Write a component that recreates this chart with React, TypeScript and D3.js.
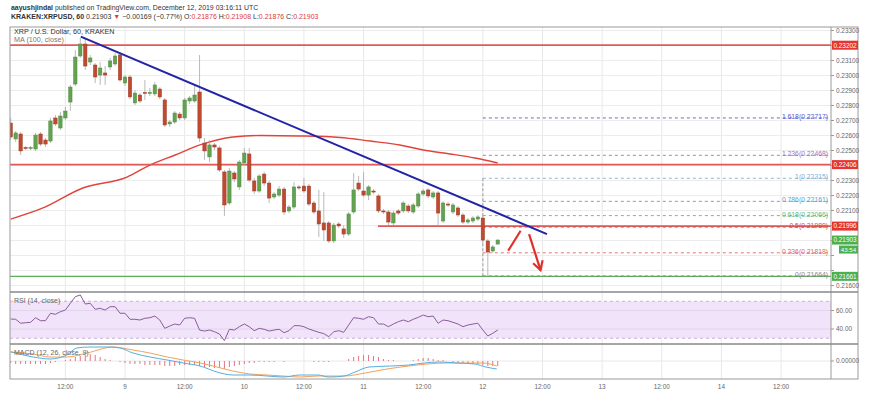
import React from "react";
import * as d3 from "d3";

const W = 875;
const H = 395;
const FONT = "'Liberation Sans', Arial, sans-serif";

// first candle: Dec 8, 01:00 UTC, hourly
const T0 = Date.UTC(2019, 11, 8, 0);

const opens = [
  0.22683, 0.22577, 0.2261, 0.2252, 0.22513, 0.2251, 0.2261, 0.2257, 0.22563, 0.22717,
  0.2265, 0.22717, 0.22823, 0.22943, 0.2313, 0.2321, 0.2309, 0.2307, 0.23003, 0.23017,
  0.23057, 0.23077, 0.23137, 0.2295, 0.2299, 0.22817, 0.2287, 0.22887, 0.2288, 0.22877,
  0.2291, 0.22837, 0.22677, 0.2269, 0.22743, 0.22717, 0.2283, 0.2283, 0.2289, 0.2255,
  0.22457, 0.22537, 0.22517, 0.22357, 0.2215, 0.2235, 0.22257, 0.22417, 0.22477, 0.22297,
  0.2223, 0.22343, 0.22283, 0.2219, 0.22203, 0.22243, 0.22097, 0.22123, 0.22257, 0.22263,
  0.22263, 0.2215, 0.22097, 0.22017, 0.22017, 0.21897, 0.2201, 0.21977, 0.21943, 0.2209,
  0.22283, 0.2223, 0.22203, 0.2223, 0.22197, 0.22097, 0.2209, 0.22017, 0.22097, 0.22097,
  0.2213, 0.2209, 0.2213, 0.2221, 0.22237, 0.2219, 0.22217, 0.2203, 0.22143, 0.2209,
  0.22117, 0.2207, 0.22023, 0.2203, 0.22043, 0.2205, 0.21897, 0.2183, 0.21876,
];
const highs = [
  0.22717, 0.2263, 0.22623, 0.2253, 0.2253, 0.22617, 0.22623, 0.22583, 0.22717, 0.22737,
  0.22757, 0.2279, 0.22937, 0.2317, 0.2325, 0.2325, 0.23137, 0.23083, 0.2309, 0.23063,
  0.23117, 0.2315, 0.23157, 0.23003, 0.23003, 0.22903, 0.22883, 0.2297, 0.22917, 0.22957,
  0.22923, 0.2285, 0.22703, 0.22763, 0.22757, 0.2285, 0.22863, 0.22937, 0.23137, 0.22583,
  0.2257, 0.2255, 0.2253, 0.2237, 0.22383, 0.22363, 0.22437, 0.22517, 0.22517, 0.22317,
  0.22343, 0.22357, 0.22297, 0.22223, 0.22263, 0.22257, 0.22137, 0.2229, 0.2227, 0.22317,
  0.22277, 0.22163, 0.22237, 0.22223, 0.2203, 0.22017, 0.22023, 0.22003, 0.2209, 0.2235,
  0.2233, 0.22357, 0.2227, 0.22243, 0.2221, 0.2211, 0.22103, 0.22097, 0.2211, 0.22163,
  0.22143, 0.2215, 0.22223, 0.22243, 0.2225, 0.2223, 0.2223, 0.22163, 0.22157, 0.2215,
  0.2213, 0.22083, 0.2205, 0.22063, 0.2207, 0.22063, 0.2191, 0.2187, 0.21908,
];
const lows = [
  0.2257, 0.22557, 0.2247, 0.22503, 0.22503, 0.22497, 0.2253, 0.22523, 0.2255, 0.22663,
  0.22637, 0.22703, 0.22763, 0.2293, 0.23117, 0.23037, 0.2307, 0.2295, 0.22937, 0.22937,
  0.23037, 0.23063, 0.22957, 0.2293, 0.22843, 0.22803, 0.22817, 0.22837, 0.22863, 0.22863,
  0.22843, 0.22657, 0.22657, 0.22677, 0.22703, 0.22703, 0.2281, 0.22817, 0.22557, 0.22437,
  0.22423, 0.22503, 0.22357, 0.22063, 0.22137, 0.2229, 0.22237, 0.22403, 0.2229, 0.2221,
  0.22217, 0.22263, 0.2215, 0.22177, 0.2219, 0.2207, 0.22083, 0.2211, 0.22237, 0.22217,
  0.2213, 0.22077, 0.21923, 0.21897, 0.21883, 0.21883, 0.21983, 0.21917, 0.2193, 0.22077,
  0.2223, 0.2219, 0.2217, 0.2221, 0.22083, 0.22077, 0.22003, 0.22003, 0.2207, 0.22083,
  0.22083, 0.22077, 0.22117, 0.22197, 0.22183, 0.22177, 0.21997, 0.22017, 0.22123, 0.22077,
  0.22057, 0.2201, 0.2201, 0.22017, 0.2203, 0.21883, 0.21664, 0.21817, 0.21876,
];
const closes = [
  0.2259, 0.22617, 0.22497, 0.22513, 0.2252, 0.22603, 0.22543, 0.22543, 0.22697, 0.22677,
  0.2273, 0.22763, 0.22923, 0.23123, 0.2321, 0.23063, 0.23117, 0.2299, 0.2305, 0.23003,
  0.23097, 0.2313, 0.2297, 0.2299, 0.22857, 0.22883, 0.2283, 0.2288, 0.22887, 0.22937,
  0.22857, 0.2267, 0.2269, 0.2275, 0.22717, 0.22837, 0.2285, 0.2287, 0.22583, 0.22497,
  0.22537, 0.22523, 0.2237, 0.22137, 0.22363, 0.2231, 0.22423, 0.22483, 0.22303, 0.2223,
  0.2233, 0.22283, 0.22183, 0.2221, 0.22243, 0.2209, 0.22123, 0.22257, 0.2225, 0.2223,
  0.22143, 0.2209, 0.2201, 0.2197, 0.21897, 0.22003, 0.21997, 0.21943, 0.22077, 0.22237,
  0.22243, 0.22203, 0.22257, 0.22223, 0.22097, 0.2209, 0.22023, 0.22083, 0.22083, 0.2215,
  0.22097, 0.22137, 0.2221, 0.2223, 0.22197, 0.22217, 0.22083, 0.2215, 0.22137, 0.22137,
  0.2207, 0.22023, 0.22037, 0.2205, 0.22057, 0.21903, 0.21823, 0.21857, 0.21903,
];

// MA(100) read at [hour since Dec 8 00:00, price]
const maPoints: [number, number][] = [
  [1, 0.22043], [7.5, 0.22117], [15.5, 0.2225], [24.4, 0.22323], [29, 0.22403],
  [34.1, 0.2247], [39.1, 0.22537], [45.7, 0.2259], [51.2, 0.226], [59.2, 0.22597],
  [67.3, 0.22587], [73.3, 0.22563], [79.3, 0.22537], [84, 0.22503], [89.4, 0.22477],
  [94.4, 0.2245], [99, 0.22417],
];

const rsi = [
  50.8, 50.5, 46.2, 46.8, 47.2, 52.2, 49, 49, 57, 55.9,
  58.7, 60.5, 67.8, 74.9, 76.8, 67, 67.8, 61.3, 62.4, 60.5,
  64.1, 64.1, 57, 57, 50.5, 50.5, 49.7, 51.6, 52.2, 54,
  49.7, 40.7, 43.2, 45.4, 44.3, 51.6, 52.2, 51.6, 38.9, 37.8,
  38.9, 37.1, 34.6, 27.4, 39.7, 38.9, 42.5, 45.4, 42.5, 38.2,
  40.7, 39.7, 37.8, 38.9, 39.7, 36, 38.2, 43.6, 43.6, 42.5,
  40, 38.2, 36.4, 35, 31.7, 37.1, 38.2, 36.4, 44.3, 52.2,
  51.6, 50.5, 53.3, 52.2, 45.4, 45.4, 42.5, 45.4, 47.9, 49.7,
  47.9, 50.5, 52.6, 55.1, 53.3, 54, 46.2, 49.7, 49, 47.2,
  45.4, 42.5, 44.3, 45.4, 46.2, 38.9, 32.4, 35.4, 38.9,
];

// MACD in units of 0.00001, [hour, value]
const macdLine: [number, number][] = [
  [1, 46], [5.5, 20], [8.9, 10], [12.3, 30], [14.3, 65], [17, 70], [21, 70], [23, 65],
  [25.6, 40], [29, 20], [32.5, 5], [35.7, -10], [39.1, -25], [42.5, -55], [45.7, -70],
  [49.1, -70], [52.6, -75], [55.8, -80], [59.2, -70], [62.8, -70], [65, -80], [68.1, -75],
  [70.3, -55], [73.1, -30], [77.5, -25], [81.1, -20], [84.2, -10], [87.2, -5], [90.8, -10],
  [94.4, -15], [96.6, -30], [98.8, -40],
];
const signalLine: [number, number][] = [
  [1, 45], [5.5, 35], [8.9, 20], [12.3, 20], [16.4, 40], [21.6, 70], [25.6, 55], [29, 40],
  [32.5, 20], [35.7, 5], [39.1, -10], [42.5, -30], [45.7, -50], [49.1, -65], [52.6, -70],
  [55.8, -75], [59.2, -80], [62.8, -75], [68.1, -75], [72.3, -60], [76.7, -40], [81.1, -25],
  [84.8, -15], [88.4, -10], [92.2, -10], [96, -10], [98.8, -25],
];
const histogram = [
  -10, -15, -15, -15, -15, -15, -15, -15, -10, -5,
  0, 5, 10, 20, 25, 30, 35, 30, 20, 10,
  5, 0, -5, -10, -15, -15, -15, -20, -20, -20,
  -20, -25, -25, -25, -20, -20, -20, -20, -25, -30,
  -30, -35, -35, -40, -30, -25, -20, -15, -10, -10,
  -5, -5, -5, -5, 0, -5, 0, 0, 0, 0,
  0, -5, -5, -5, -5, 0, 0, 0, 10, 20,
  25, 30, 30, 25, 20, 10, 5, 5, 0, 0,
  0, 5, 10, 15, 15, 10, 5, 5, 0, -5,
  -10, -10, -15, -15, -15, -20, -25, -25, -25,
];

const fibRatios = [0, 0.236, 0.5, 0.618, 0.786, 1, 1.236, 1.618];
const fibPrices = [0.21664, 0.21818, 0.21989, 0.22066, 0.22161, 0.22315, 0.22468, 0.22717];
const fibColors = ["#8a8a8a", "#e06a6a", "#d05050", "#5cb87e", "#5a9fd0", "#7fb0d0", "#a070c8", "#5a5ad0"];

// hand-drawn annotations, [hour, price]
const trendLine: [number, number][] = [[15.1, 0.23259], [108.9, 0.21943]];
const arrowUp: [number, number][] = [[101.1, 0.21832], [103.6, 0.21965]];
const arrowDown: [number, number][] = [[105.3, 0.21943], [107.6, 0.21703]];

const redLevels = [0.23202, 0.22406];
const supportLevel = 0.21996;
const greenLevel = 0.21661;
const lastPrice = 0.21903;

const L = 10;
const R = 831;
const AX = 858;
const TOP = 27;
const MAIN_B = 292;
const RSI_B = 344;
const MACD_B = 379;

export default function App() {
  const x = d3
    .scaleUtc()
    .domain([new Date(T0), new Date(Date.UTC(2019, 11, 14, 12))])
    .range([5.73, 781.05]);
  const xh = (h: number) => x(new Date(T0 + h * 3600e3));
  const y = d3.scaleLinear().domain([0.216, 0.233]).range([285.5, 30.5]);
  const yRsi = d3.scaleLinear().domain([40, 60]).range([329, 310.5]);
  const yMacd = d3.scaleLinear().domain([-90, 85]).range([MACD_B, RSI_B]);

  const timeTicks = d3.utcHour.every(12)!.range(new Date(Date.UTC(2019, 11, 8, 12)), new Date(Date.UTC(2019, 11, 14, 13)));
  const priceTicks = y.ticks(17);
  const boxed = [...redLevels, supportLevel, lastPrice, greenLevel];
  const tickLabels = priceTicks.filter(
    (p) => !boxed.some((b) => Math.abs(y(p) - y(b)) < 8) && Math.abs(y(p) - (y(lastPrice) + 9.5)) > 7
  );
  const bw = 3.4;

  const maPath = d3.line<[number, number]>().x((d) => xh(d[0])).y((d) => y(d[1])).curve(d3.curveMonotoneX)(maPoints);
  const rsiPath = d3.line<number>().x((_, i) => xh(i + 1)).y((d) => yRsi(d))(rsi);
  const macdPath = d3.line<[number, number]>().x((d) => xh(d[0])).y((d) => yMacd(d[1])).curve(d3.curveMonotoneX);

  const a2 = arrowDown.map((d) => [xh(d[0]), y(d[1])]);
  const dx = a2[1][0] - a2[0][0];
  const dy = a2[1][1] - a2[0][1];
  const len = Math.hypot(dx, dy);
  const ux = -dx / len;
  const uy = -dy / len;
  const barb = (s: number) => {
    const c = Math.cos(Math.PI / 6), sn = Math.sin(Math.PI / 6) * s;
    return [a2[1][0] + 10 * (ux * c - uy * sn), a2[1][1] + 10 * (ux * sn + uy * c)];
  };
  const b1 = barb(1);
  const b2 = barb(-1);

  const fmtTime = (d: Date) => (d.getUTCHours() === 0 ? String(d.getUTCDate()) : "12:00");

  const red = "#e03a3a";
  const green = "#4caf50";

  return (
    <svg width={W} height={H} style={{ position: "absolute", left: 0, top: 0, fontFamily: FONT }}>
      <defs>
        <clipPath id="main">
          <rect x={L} y={TOP} width={R - L} height={MAIN_B - TOP} />
        </clipPath>
      </defs>
      <rect width={W} height={H} fill="#fff" />

      {/* header */}
      <text x={11} y={10} fontSize={6.95} fill="#333">
        <tspan fontWeight="bold">aayushjindal</tspan> published on TradingView.com, December 12, 2019 03:16:11 UTC
      </text>
      <text x={11} y={19} fontSize={7.0} fill="#333">
        <tspan fontWeight="bold">KRAKEN:XRPUSD, 60</tspan> 0.21903 <tspan fill={red}>▼</tspan> −0.00169 (−0.77%) O:
        <tspan fill={red}>0.21876</tspan> H:<tspan fill={red}>0.21908</tspan> L:<tspan fill={red}>0.21876</tspan> C:
        <tspan fill={red}>0.21903</tspan>
      </text>

      {/* grid */}
      {timeTicks.map((t, i) => (
        <line key={"vg" + i} x1={x(t)} x2={x(t)} y1={TOP} y2={MACD_B} stroke="#e8e8e8" />
      ))}
      {priceTicks.map((p, i) => (
        <line key={"hg" + i} x1={L} x2={R} y1={y(p)} y2={y(p)} stroke="#ececec" />
      ))}

      {/* main pane */}
      <g clipPath="url(#main)">
        <path d={maPath!} fill="none" stroke="#e0443c" strokeWidth={1.4} />
        {redLevels.map((p) => (
          <line key={p} x1={L} x2={R} y1={y(p)} y2={y(p)} stroke="#e05a5a" strokeWidth={1.8} />
        ))}
        <line x1={xh(74.9)} x2={R} y1={y(supportLevel)} y2={y(supportLevel)} stroke="#e05a5a" strokeWidth={1.8} />
        <line x1={L} x2={R} y1={y(greenLevel)} y2={y(greenLevel)} stroke="#5cae5c" strokeWidth={1.4} />

        {/* fib */}
        <line x1={xh(96)} x2={xh(96)} y1={y(fibPrices[5])} y2={y(fibPrices[0])} stroke="#999" strokeDasharray="3,2" />
        {fibPrices.map((p, i) => (
          <g key={"fib" + i}>
            <line x1={xh(96)} x2={R - 2} y1={y(p)} y2={y(p)} stroke={fibColors[i]} strokeDasharray="3,3" strokeWidth={0.9} />
            <text x={R - 3} y={y(p) + 1} fontSize={6.8} textAnchor="end" fill={fibColors[i]}>
              {`${fibRatios[i]}(${p.toFixed(5)})`}
            </text>
          </g>
        ))}

        {/* candles */}
        {opens.map((o, i) => {
          const cx = xh(i + 1);
          const c = closes[i];
          const up = c >= o;
          const top = y(Math.max(o, c));
          const bot = y(Math.min(o, c));
          return (
            <g key={"c" + i}>
              <line x1={cx} x2={cx} y1={y(highs[i])} y2={y(lows[i])} stroke="#a8a8a8" strokeWidth={0.8} />
              <rect
                x={cx - bw / 2}
                y={top}
                width={bw}
                height={Math.max(1, bot - top)}
                fill={up ? "#62a352" : "#bf4a30"}
                stroke={up ? "#4f8c42" : "#a23c26"}
                strokeWidth={0.5}
              />
            </g>
          );
        })}

        {/* trend line + arrows */}
        <line
          x1={xh(trendLine[0][0])}
          y1={y(trendLine[0][1])}
          x2={xh(trendLine[1][0])}
          y2={y(trendLine[1][1])}
          stroke="#2323a8"
          strokeWidth={2}
        />
        <line
          x1={xh(arrowUp[0][0])}
          y1={y(arrowUp[0][1])}
          x2={xh(arrowUp[1][0])}
          y2={y(arrowUp[1][1])}
          stroke="#e0302a"
          strokeWidth={2.2}
        />
        <line x1={a2[0][0]} y1={a2[0][1]} x2={a2[1][0]} y2={a2[1][1]} stroke="#e0302a" strokeWidth={2.2} />
        <polyline
          points={`${b1[0]},${b1[1]} ${a2[1][0]},${a2[1][1]} ${b2[0]},${b2[1]}`}
          fill="none"
          stroke="#e0302a"
          strokeWidth={2.2}
        />
      </g>

      <text x={14} y={34} fontSize={7.2} fill="#333">XRP / U.S. Dollar, 60, KRAKEN</text>
      <text x={14} y={42} fontSize={7.2} fill="#777">MA (100, close)</text>

      {/* RSI pane */}
      <rect x={L} y={yRsi(70)} width={R - L} height={yRsi(30) - yRsi(70)} fill="#f1e3fa" />
      {[70, 30].map((v) => (
        <line key={v} x1={L} x2={R} y1={yRsi(v)} y2={yRsi(v)} stroke="#b9a4c6" strokeDasharray="3,3" strokeWidth={0.8} />
      ))}
      {[60, 40].map((v) => (
        <line key={v} x1={L} x2={R} y1={yRsi(v)} y2={yRsi(v)} stroke="#e2d4ea" />
      ))}
      <path d={rsiPath!} fill="none" stroke="#8b5c9c" strokeWidth={1} />
      <text x={14} y={303} fontSize={7} fill="#666">RSI (14, close)</text>

      {/* MACD pane */}
      <line x1={L} x2={R} y1={yMacd(0)} y2={yMacd(0)} stroke="#e8e8e8" />
      {histogram.map((v, i) => (
        <line
          key={"h" + i}
          x1={xh(i + 1)}
          x2={xh(i + 1)}
          y1={yMacd(0)}
          y2={yMacd(v)}
          stroke="#e57382"
          strokeWidth={1}
        />
      ))}
      <path d={macdPath(signalLine)!} fill="none" stroke="#f2a25c" strokeWidth={1} />
      <path d={macdPath(macdLine)!} fill="none" stroke="#55aee0" strokeWidth={1} />
      <text x={14} y={355} fontSize={7} fill="#666">MACD (12, 26, close, 9)</text>

      {/* frame */}
      <rect x={L} y={TOP} width={AX - L} height={MACD_B - TOP} fill="none" stroke="#9a9a9a" />
      <line x1={R} x2={R} y1={TOP} y2={MACD_B} stroke="#9a9a9a" />
      <line x1={L} x2={AX} y1={MAIN_B} y2={MAIN_B} stroke="#888" strokeWidth={1.4} />
      <line x1={L} x2={AX} y1={RSI_B} y2={RSI_B} stroke="#888" strokeWidth={1.4} />

      {/* price axis */}
      {priceTicks.map((p, i) => (
        <line key={"ptk" + i} x1={R} x2={R + 3} y1={y(p)} y2={y(p)} stroke="#999" />
      ))}
      {tickLabels.map((p, i) => (
        <text key={"pt" + i} x={R + 5} y={y(p) + 2.3} fontSize={6.4} fill="#666">
          {p.toFixed(5)}
        </text>
      ))}
      {[60, 40].map((v) => (
        <g key={"rt" + v}>
          <line x1={R} x2={R + 3} y1={yRsi(v)} y2={yRsi(v)} stroke="#999" />
          <text x={R + 5} y={yRsi(v) + 2.3} fontSize={6.4} fill="#666">
            {v.toFixed(2)}
          </text>
        </g>
      ))}
      <line x1={R} x2={R + 3} y1={yMacd(0)} y2={yMacd(0)} stroke="#999" />
      <text x={R + 5} y={yMacd(0) + 2.3} fontSize={6.4} fill="#666">0.00000</text>

      {[...redLevels, supportLevel].map((p) => (
        <g key={"rl" + p}>
          <rect x={R + 1} y={y(p) - 4.5} width={AX - R - 1} height={9} fill="#e53530" />
          <text x={(R + AX) / 2 + 0.5} y={y(p) + 2.3} fontSize={6.4} fill="#fff" textAnchor="middle">
            {p.toFixed(5)}
          </text>
        </g>
      ))}
      <rect x={R + 1} y={y(lastPrice) - 4.5} width={AX - R - 1} height={9} fill={green} />
      <text x={(R + AX) / 2 + 0.5} y={y(lastPrice) + 2.3} fontSize={6.4} fill="#fff" textAnchor="middle">
        {lastPrice.toFixed(5)}
      </text>
      <rect x={AX - 19} y={y(lastPrice) + 5.5} width={19} height={8} fill={green} />
      <text x={AX - 9.5} y={y(lastPrice) + 11.7} fontSize={6.2} fill="#fff" textAnchor="middle">43:54</text>
      <rect x={R + 1} y={y(greenLevel) - 4.5} width={AX - R - 1} height={9} fill={green} />
      <text x={(R + AX) / 2 + 0.5} y={y(greenLevel) + 2.3} fontSize={6.4} fill="#fff" textAnchor="middle">
        {greenLevel.toFixed(5)}
      </text>

      {/* time axis */}
      {timeTicks.map((t, i) => (
        <text key={"tt" + i} x={x(t)} y={389} fontSize={6.4} fill="#666" textAnchor="middle">
          {fmtTime(t)}
        </text>
      ))}
    </svg>
  );
}
